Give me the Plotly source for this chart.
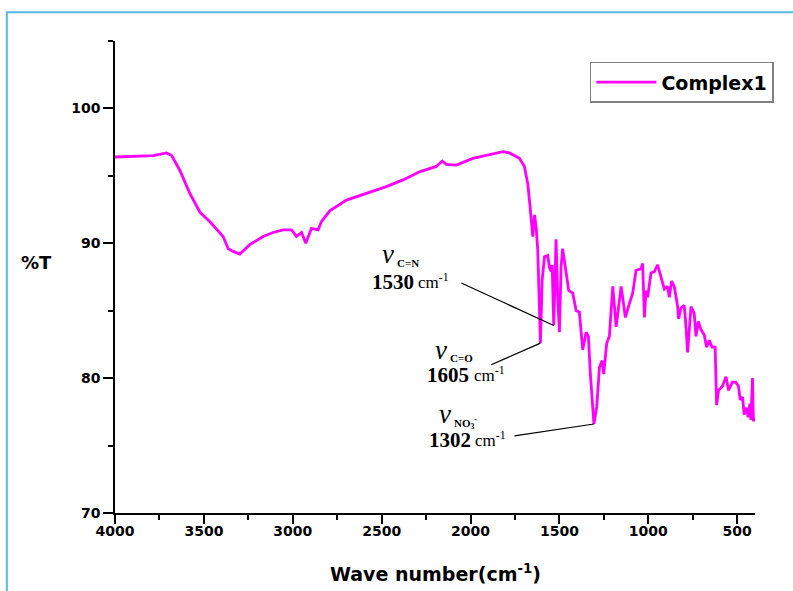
import plotly.graph_objects as go

# ---- data ----
wavenumber = [4000, 3785, 3710, 3681, 3635, 3579, 3522, 3466, 3392, 3363, 3335, 3298, 3242,
              3167, 3111, 3054, 3007, 2979, 2951, 2927, 2895, 2858, 2839, 2792, 2698, 2567,
              2474, 2380, 2287, 2193, 2159, 2137, 2080, 1987, 1912, 1818, 1781, 1725, 1697,
              1678, 1665, 1650, 1640, 1631, 1622, 1612, 1607, 1597, 1584, 1566, 1556, 1547,
              1541, 1532, 1519, 1510, 1500, 1491, 1482, 1462, 1448, 1425, 1406, 1388, 1369,
              1350, 1337, 1326, 1306, 1290, 1275, 1260, 1251, 1234, 1219, 1200, 1181, 1153,
              1129, 1107, 1088, 1069, 1041, 1032, 1022, 1013, 1004, 985, 966, 948, 929, 910,
              891, 882, 869, 854, 835, 830, 816, 798, 788, 779, 760, 742, 732, 719, 704, 685,
              672, 657, 642, 624, 616, 605, 583, 563, 549, 527, 508, 493, 483, 470, 461, 448,
              438, 429, 423, 414, 409, 403]
transmittance = [96.4, 96.5, 96.7, 96.5, 95.4, 93.7, 92.3, 91.6, 90.5, 89.6, 89.4, 89.2, 89.9,
                 90.5, 90.8, 91.0, 91.0, 90.5, 90.8, 90.0, 91.1, 91.0, 91.6, 92.4, 93.2, 93.8,
                 94.2, 94.7, 95.3, 95.7, 96.1, 95.85, 95.8, 96.3, 96.5, 96.8, 96.7, 96.3, 95.7,
                 94.4, 92.7, 90.5, 92.1, 91.2, 89.5, 85.8, 82.6, 87.3, 89.0, 89.1, 88.2, 87.9,
                 88.4, 83.9, 90.3, 86.0, 83.4, 88.2, 89.6, 87.8, 86.5, 86.3, 85.0, 84.9, 82.1,
                 83.4, 83.1, 80.3, 76.6, 77.9, 80.8, 81.3, 80.3, 82.6, 83.1, 86.8, 83.8, 86.8,
                 84.5, 85.5, 86.3, 88.0, 88.1, 88.5, 84.5, 86.5, 86.0, 87.8, 87.9, 88.4, 87.5, 86.6,
                 86.8, 86.0, 87.2, 86.8, 85.3, 84.4, 85.2, 85.4, 83.8, 81.9, 85.3, 84.8, 83.1, 84.2,
                 83.6, 83.2, 82.3, 82.8, 82.3, 82.3, 78.0, 79.1, 79.4, 80.1, 79.1, 79.7, 79.7, 79.4,
                 78.4, 78.6, 77.3, 77.8, 77.1, 78.1, 76.9, 80.0, 76.8, 77.1]
series_name = "Complex1"

x_ticks = [4000, 3500, 3000, 2500, 2000, 1500, 1000, 500]
y_ticks = [70, 80, 90, 100]

# band labels: peak wavenumber, number text, subscript text
peak_wn = [1532, 1607, 1306]
peak_num = ["1530", "1605", "1302"]
peak_sub = ["C=N", "C=O", "NO<sub>3</sub><sup>-</sup>"]
# label anchors (left edge, vertical middle) in data units
nu_pos = [(2511, 89.23), (2213, 82.10), (2191, 77.35)]
sub_pos = [(2427, 88.56), (2129, 81.51), (2107, 76.68)]
num_pos = [(2567, 87.15), (2258, 80.24), (2247, 75.42)]
cm_pos = [(2309, 87.2), (1994, 80.29), (1989, 75.47)]
tail_pos = [(2052, 87.05), (1884, 80.99), (1753, 75.72)]

lookup = dict(zip(wavenumber, transmittance))

fig = go.Figure()
fig.add_trace(go.Scatter(x=wavenumber, y=transmittance, mode="lines", name=series_name,
                         line=dict(color="#ff00ff", width=2.8)))

serif = "Liberation Serif, Times New Roman, serif"
annotations = []
shapes = []


def ann(pos, text, size, bold=False, italic=False):
    return dict(x=pos[0], y=pos[1], xref="x", yref="y", xanchor="left", yanchor="middle",
                showarrow=False, text=text,
                font=dict(family=serif, size=size, color="black",
                          weight="bold" if bold else "normal",
                          style="italic" if italic else "normal"))


for wn, num, sub, pn, ps, pm, pc, tp in zip(peak_wn, peak_num, peak_sub, nu_pos, sub_pos,
                                            num_pos, cm_pos, tail_pos):
    annotations.append(ann(pn, "ν", 27, italic=True))
    annotations.append(ann(ps, sub, 11, bold=True))
    annotations.append(ann(pm, num, 21, bold=True))
    annotations.append(ann(pc, "cm<sup>-1</sup>", 17))
    shapes.append(dict(type="line", xref="x", yref="y", x0=tp[0], y0=tp[1], x1=wn, y1=lookup[wn],
                       line=dict(color="black", width=1.2)))

# axis titles
annotations.append(dict(x=-0.122, y=0.53, xref="paper", yref="paper", showarrow=False,
                        text="%T", xanchor="center", yanchor="middle",
                        font=dict(family="DejaVu Sans", size=18, color="black", weight="bold")))
annotations.append(dict(x=0.5, y=-0.127, xref="paper", yref="paper", showarrow=False,
                        text="Wave number(cm<sup>-1</sup>)", xanchor="center", yanchor="middle",
                        font=dict(family="DejaVu Sans", size=19, color="black", weight="bold")))

# blue frame around the whole picture
shapes.append(dict(type="rect", xref="paper", yref="paper", x0=-0.169, y0=-0.2, x1=1.08, y1=1.061,
                   line=dict(color="#5bb8e6", width=2), layer="below"))

tickfont = dict(family="DejaVu Sans", size=14, color="black", weight="bold")
fig.update_layout(
    width=793, height=591,
    margin=dict(l=115, r=38, t=41, b=78),
    paper_bgcolor="white", plot_bgcolor="white",
    showlegend=True,
    legend=dict(x=0.742, y=0.956, xanchor="left", yanchor="top", bordercolor="#808080",
                borderwidth=1.5, bgcolor="white", itemwidth=60,
                font=dict(family="DejaVu Sans", size=19, color="black", weight="bold")),
    annotations=annotations, shapes=shapes,
    xaxis=dict(range=[4000, 400], tickvals=x_ticks, ticktext=[str(v) for v in x_ticks],
               showline=True, linecolor="black", linewidth=1.5, ticks="outside", ticklen=9,
               tickwidth=1.5, tickcolor="black", showgrid=False, zeroline=False,
               ticklabelstandoff=-5,
               minor=dict(dtick=250, tick0=0, ticks="outside", ticklen=5, tickwidth=1.5,
                          tickcolor="black", showgrid=False),
               tickfont=tickfont),
    yaxis=dict(range=[70, 105], tickvals=y_ticks, ticktext=[str(v) for v in y_ticks],
               showline=True, linecolor="black", linewidth=1.5, ticks="outside", ticklen=10,
               tickwidth=1.5, tickcolor="black", showgrid=False, zeroline=False,
               minor=dict(dtick=5, tick0=70, ticks="outside", ticklen=5, tickwidth=1.5,
                          tickcolor="black", showgrid=False),
               tickfont=tickfont),
)

fig.write_html("out.html")
